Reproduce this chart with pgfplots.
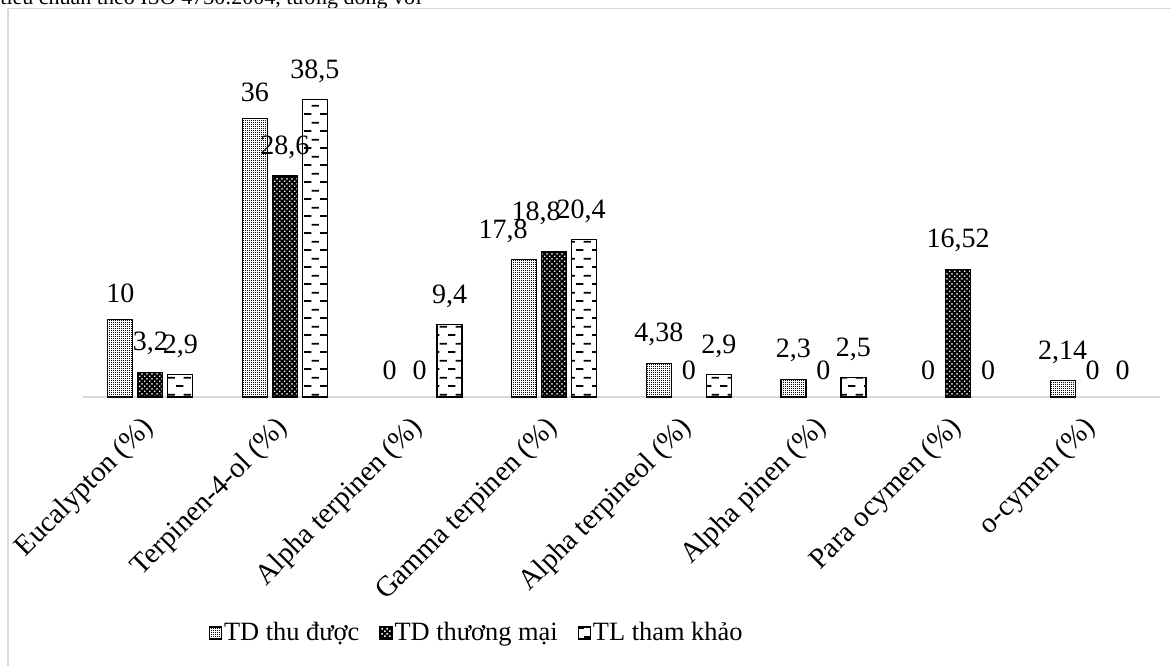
\documentclass[border=0pt]{standalone}
\usepackage{fontspec}
\setmainfont{Liberation Serif}
\usepackage{pgfplots}
\usepackage{pgfplotstable}
\pgfplotsset{compat=1.18}
\usetikzlibrary{patterns}

\pgfdeclarepatternformonly{finedots}{\pgfpointorigin}{\pgfqpoint{1.1pt}{1.1pt}}{\pgfqpoint{1.1pt}{1.1pt}}{%
  \pgfpathrectangle{\pgfpointorigin}{\pgfqpoint{0.6pt}{0.6pt}}\pgfusepath{fill}}
\pgfdeclarepatternformonly{whitedots}{\pgfpointorigin}{\pgfqpoint{2.4pt}{2.4pt}}{\pgfqpoint{2.4pt}{2.4pt}}{%
  \pgfpathrectangle{\pgfpointorigin}{\pgfqpoint{0.75pt}{0.75pt}}%
  \pgfpathrectangle{\pgfqpoint{1.2pt}{1.2pt}}{\pgfqpoint{0.75pt}{0.75pt}}\pgfusepath{fill}}
\pgfdeclarepatternformonly{dashbrick}{\pgfpointorigin}{\pgfqpoint{8pt}{8.7pt}}{\pgfqpoint{8pt}{8.7pt}}{%
  \pgfsetlinewidth{0.9pt}%
  \pgfpathmoveto{\pgfqpoint{0pt}{1pt}}\pgfpathlineto{\pgfqpoint{3.9pt}{1pt}}%
  \pgfpathmoveto{\pgfqpoint{4pt}{5.35pt}}\pgfpathlineto{\pgfqpoint{7.9pt}{5.35pt}}%
  \pgfusepath{stroke}}

\definecolor{framegray}{RGB}{217,217,217}
\newcommand\cf{\fontsize{14}{16.8}\selectfont}

\pgfplotstableread{
x a b c
0 10 3.2 2.9
1 36 28.6 38.5
2 0 0 9.4
3 17.8 18.8 20.4
4 4.38 0 2.9
5 2.3 0 2.5
6 0 16.52 0
7 2.14 0 0
}\datatable

\begin{document}
\begin{tikzpicture}
\useasboundingbox (0,0) rectangle (585.5pt,332.5pt);
\node[anchor=base west, inner sep=0pt, font=\fontsize{11}{12}\selectfont] at (0pt,330pt) {tiêu chuẩn theo ISO 4730:2004, tương đồng với};
\draw[framegray, line width=0.8pt] (4pt,-20pt) rectangle (600pt,328.2pt);
\begin{axis}[
  at={(41.5pt,134pt)}, anchor=south west,
  scale only axis, width=538.5pt, height=183.5pt,
  xmin=-0.5, xmax=7.5, ymin=0, ymax=47.5,
  axis x line=bottom, axis y line=none,
  x axis line style={draw=framegray, line width=0.8pt, -},
  xtick={0,...,7}, major tick length=0pt,
  xticklabels={Eucalypton (\%), Terpinen-4-ol (\%), Alpha terpinen (\%), Gamma terpinen (\%), Alpha terpineol (\%), Alpha pinen (\%), Para ocymen (\%), o-cymen (\%)},
  xticklabel style={yshift=-12pt, xshift=1pt, rotate=45, anchor=east, font=\fontsize{14.4}{17}\selectfont, inner sep=2pt},
  ytick=\empty,
  clip=false,
  /pgf/number format/.cd, use comma, precision=2, 1000 sep={}, assume math mode=true,
  /pgfplots/.cd,
  nodes near coords style={font=\cf, anchor=south, yshift=5pt},
  legend style={at={(0.3655,-0.643)}, anchor=center, legend columns=3, draw=none, fill=none,
    font=\fontsize{13.2}{16}\selectfont,
    nodes={inner sep=1pt},
    /tikz/every even column/.append style={column sep=9pt}},
  legend image code/.code={\draw[#1, line width=0.6pt] (0pt,-3pt) rectangle (6pt,3pt);},
]
% bars (zero values removed)
\addplot[ybar, bar width=12.5pt, bar shift=-15pt, draw=black, line width=0.6pt, fill=white,
  postaction={pattern=finedots, pattern color=black}]
  table[x=x, y expr={\thisrow{a}==0 ? nan : \thisrow{a}}] {\datatable};
\addlegendentry{TD thu được}
\addplot[ybar, bar width=12.5pt, bar shift=0pt, draw=black, line width=0.6pt, fill=black,
  postaction={pattern=whitedots, pattern color=white}]
  table[x=x, y expr={\thisrow{b}==0 ? nan : \thisrow{b}}] {\datatable};
\addlegendentry{TD thương mại}
\addplot[ybar, bar width=12.5pt, bar shift=15pt, draw=black, line width=0.6pt, fill=white,
  postaction={pattern=dashbrick, pattern color=black}]
  table[x=x, y expr={\thisrow{c}==0 ? nan : \thisrow{c}}] {\datatable};
\addlegendentry{TL tham khảo}
% value labels
\addplot[draw=none, mark=none, nodes near coords, forget plot,
  coordinate style/.condition={x>2.5 && x<3.5}{xshift=-10.5pt}]
  table[x expr={\thisrow{x}-0.22284}, y=a] {\datatable};
\addplot[draw=none, mark=none, nodes near coords, forget plot,
  coordinate style/.condition={x>2.5 && x<3.5}{yshift=5pt, xshift=-9pt}]
  table[x=x, y=b] {\datatable};
\addplot[draw=none, mark=none, nodes near coords, forget plot,
  coordinate style/.condition={x>2.5 && x<3.5}{xshift=-1.5pt}]
  table[x expr={\thisrow{x}+0.22284}, y=c] {\datatable};
\end{axis}
\end{tikzpicture}
\end{document}
